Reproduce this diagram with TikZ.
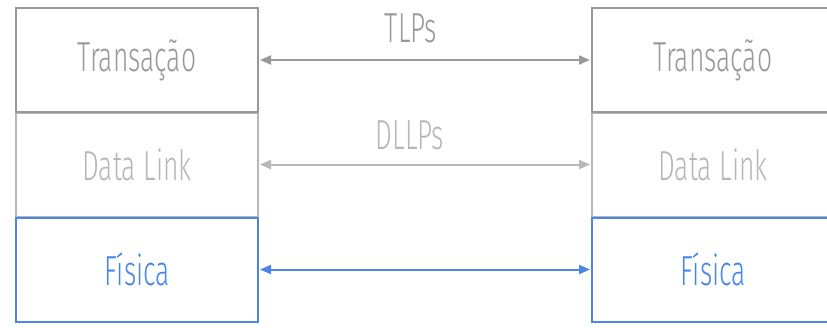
\documentclass[tikz,border=0pt]{standalone}
\usepackage{fontspec}
\setmainfont{Fira Sans Light}[FakeStretch=0.63]
\usetikzlibrary{arrows.meta}
\definecolor{gA}{HTML}{999999}
\definecolor{gB}{HTML}{B7B7B7}
\definecolor{bl}{HTML}{4A86E8}
\tikzset{
  layer/.style={draw=#1, text=#1, line width=2pt, minimum width=242pt, minimum height=104pt, inner sep=0pt, font=\fontsize{42}{44}\selectfont},
  link/.style={draw=#1, line width=2pt, {Triangle[length=11pt,width=9pt]}-{Triangle[length=11pt,width=9pt]}, shorten <=1pt, shorten >=1pt},
  lbl/.style={text=#1, font=\fontsize{42}{44}\selectfont, inner sep=0pt, anchor=base}
}
\begin{document}
\begin{tikzpicture}[x=1pt,y=-1pt]
\useasboundingbox (0,0) rectangle (827,327);
% data link (drawn first so neighbours overlap its edges)
\node[layer=gB] (dl) at (137,164.5) {Data Link};
\node[layer=gB] (dr) at (713,164.5) {Data Link};
\node[layer=gA] (tl) at (137,60) {Transação};
\node[layer=gA] (tr) at (713,60) {Transação};
\node[layer=bl] (fl) at (137,269.5) {Física};
\node[layer=bl] (fr) at (713,269.5) {Física};
\draw[link=gA] (tl.east) -- (tr.west);
\draw[link=gB] (dl.east) -- (dr.west);
\draw[link=bl] (fl.east) -- (fr.west);
\node[lbl=gA] (tlp) at (411,42) {TLPs};
\node[lbl=gB] (dllp) at (410,149) {DLLPs};
\end{tikzpicture}
\end{document}
